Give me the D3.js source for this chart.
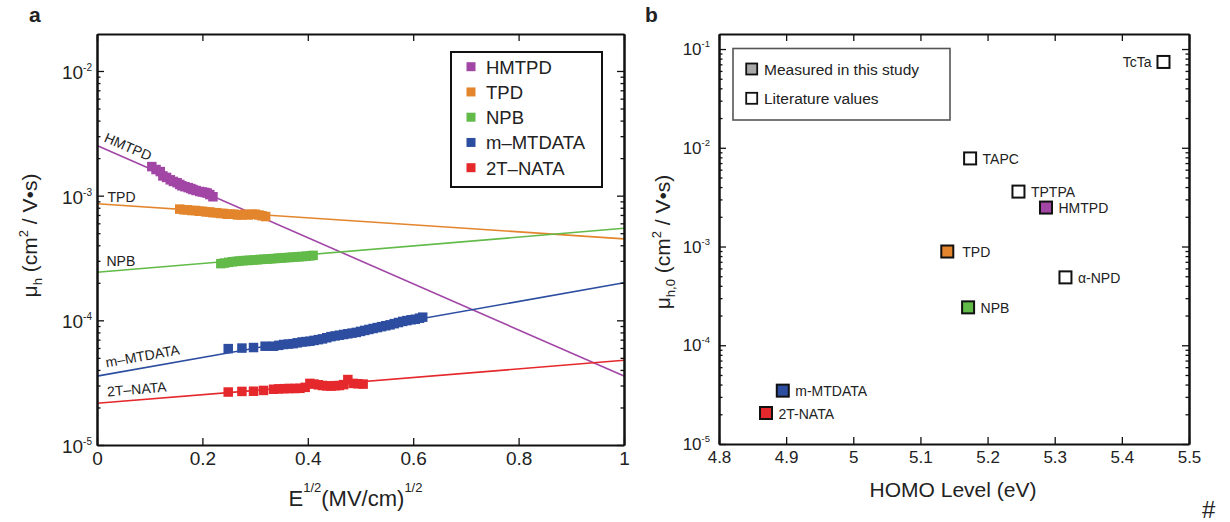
<!DOCTYPE html>
<html><head><meta charset="utf-8">
<script src="https://cdn.jsdelivr.net/npm/d3@7"></script>
<style>
body{margin:0;background:#fff}
svg{display:block}
text{font-family:"Liberation Sans",Arial,Helvetica,sans-serif;fill:#222}
</style>
</head><body><svg id="c" width="1230" height="522"></svg>
<script>
// ---------------- Panel a data ----------------
const seriesNames = ["HMTPD", "TPD", "NPB", "m–MTDATA", "2T–NATA"];
const fitX = [0, 1];
const fitHMTPD = [2.53e-3, 3.57e-5];
const fitTPD = [8.6e-4, 4.5e-4];
const fitNPB = [2.43e-4, 5.47e-4];
const fitMTDATA = [3.57e-5, 2.0e-4];
const fitNATA = [2.16e-5, 4.78e-5];

const xHMTPD = [0.104,0.112,0.12,0.125,0.132,0.139,0.145,0.152,0.157,0.161,0.167,0.173,0.178,0.182,0.188,0.195,0.2,0.205,0.209,0.214,0.22];
const yHMTPD = [1.71e-3,1.62e-3,1.56e-3,1.44e-3,1.40e-3,1.34e-3,1.30e-3,1.27e-3,1.23e-3,1.20e-3,1.18e-3,1.16e-3,1.14e-3,1.12e-3,1.10e-3,1.08e-3,1.07e-3,1.06e-3,1.05e-3,1.02e-3,0.98e-3];

const xTPD = [0.157,0.165,0.172,0.18,0.187,0.194,0.2,0.207,0.214,0.22,0.227,0.234,0.24,0.247,0.254,0.26,0.267,0.274,0.28,0.287,0.294,0.3,0.307,0.313,0.32];
const yTPD = [7.8e-4,7.7e-4,7.7e-4,7.6e-4,7.6e-4,7.5e-4,7.5e-4,7.4e-4,7.4e-4,7.3e-4,7.3e-4,7.2e-4,7.2e-4,7.1e-4,7.1e-4,7.1e-4,7.0e-4,7.0e-4,7.1e-4,7.0e-4,7.1e-4,7.1e-4,7.0e-4,6.9e-4,6.8e-4];

const xNPB = [0.235,0.242,0.25,0.257,0.264,0.27,0.277,0.284,0.29,0.297,0.304,0.31,0.317,0.324,0.33,0.337,0.344,0.35,0.357,0.364,0.37,0.377,0.384,0.39,0.397,0.404,0.41];
const yNPB = [2.85e-4,2.88e-4,2.92e-4,2.95e-4,2.97e-4,2.99e-4,3.01e-4,3.02e-4,3.03e-4,3.05e-4,3.06e-4,3.08e-4,3.09e-4,3.10e-4,3.12e-4,3.13e-4,3.15e-4,3.16e-4,3.18e-4,3.19e-4,3.21e-4,3.22e-4,3.24e-4,3.25e-4,3.27e-4,3.29e-4,3.32e-4];

const xMTDATA = [0.249,0.275,0.297,0.319,0.335,0.345,0.354,0.363,0.372,0.38,0.389,0.396,0.404,0.412,0.42,0.428,0.436,0.444,0.452,0.46,0.468,0.476,0.484,0.492,0.5,0.508,0.516,0.524,0.532,0.54,0.548,0.556,0.564,0.572,0.58,0.588,0.596,0.604,0.612,0.618];
const yMTDATA = [5.93e-5,5.99e-5,6.05e-5,6.2e-5,6.2e-5,6.3e-5,6.4e-5,6.45e-5,6.5e-5,6.6e-5,6.7e-5,6.75e-5,6.8e-5,6.9e-5,7.0e-5,7.1e-5,7.25e-5,7.4e-5,7.5e-5,7.6e-5,7.7e-5,7.8e-5,7.9e-5,8.0e-5,8.15e-5,8.3e-5,8.45e-5,8.6e-5,8.75e-5,8.9e-5,9.05e-5,9.2e-5,9.4e-5,9.6e-5,9.8e-5,9.95e-5,1.01e-4,1.02e-4,1.04e-4,1.06e-4];

const xNATA = [0.249,0.275,0.297,0.316,0.335,0.345,0.355,0.365,0.375,0.385,0.395,0.404,0.412,0.42,0.428,0.436,0.444,0.452,0.46,0.468,0.476,0.486,0.495,0.505];
const yNATA = [2.66e-5,2.69e-5,2.70e-5,2.74e-5,2.80e-5,2.82e-5,2.83e-5,2.84e-5,2.84e-5,2.85e-5,2.90e-5,3.12e-5,3.08e-5,3.04e-5,3.00e-5,2.98e-5,2.97e-5,2.99e-5,3.00e-5,3.05e-5,3.35e-5,3.12e-5,3.10e-5,3.08e-5];

const xTicksA = [0, 0.2, 0.4, 0.6, 0.8, 1];
const yTicksA = [1e-5, 1e-4, 1e-3, 1e-2];

// ---------------- Panel b data ----------------
const homoNames = ["TcTa", "TAPC", "TPTPA", "HMTPD", "TPD", "α-NPD", "NPB", "m-MTDATA", "2T-NATA"];
const homoLevel = [5.462, 5.174, 5.246, 5.287, 5.140, 5.316, 5.171, 4.895, 4.870];
const mu0 = [7.4e-2, 7.8e-3, 3.6e-3, 2.48e-3, 8.9e-4, 4.87e-4, 2.42e-4, 3.47e-5, 2.06e-5];
const measured = ["HMTPD", "TPD", "NPB", "m-MTDATA", "2T-NATA"];
const xTicksB = [4.8, 4.9, 5.0, 5.1, 5.2, 5.3, 5.4, 5.5];
const yTicksB = [1e-5, 1e-4, 1e-3, 1e-2, 1e-1];
const legendB = ["Measured in this study", "Literature values"];

// ---------------- styles ----------------
const colorA = {"HMTPD":"#a246a6","TPD":"#e3852c","NPB":"#62ba48","m–MTDATA":"#2d4ea0","2T–NATA":"#e5282b"};
const colorB = {"HMTPD":"#a246a6","TPD":"#e3852c","NPB":"#62ba48","m-MTDATA":"#2d4ea0","2T-NATA":"#e5282b"};
const FONT = '"Liberation Sans",Arial,Helvetica,sans-serif';

const svg = d3.select("#c");

function minorTicks(domain){
  const out=[];
  const lo=Math.floor(Math.log10(domain[0])), hi=Math.ceil(Math.log10(domain[1]));
  for(let e=lo;e<=hi;e++) for(let m=2;m<=9;m++){const v=m*Math.pow(10,e); if(v>=domain[0]&&v<=domain[1]) out.push(v);}
  return out;
}

function frame(g, x, y, xTicks, yTicks, opts){
  const [x0,x1]=x.range(), [y0,y1]=y.range();
  const minors = minorTicks(y.domain());
  const sw = 2;
  const b = g.append("g").attr("transform",`translate(0,${y0})`)
    .call(d3.axisBottom(x).tickValues(xTicks).tickSize(-7).tickSizeOuter(0).tickPadding(opts.xPad).tickFormat(opts.xFmt));
  b.selectAll("text").attr("font-size",opts.tickFont).attr("font-family",FONT).attr("fill","#333");
  g.append("g").attr("transform",`translate(0,${y1})`)
    .call(d3.axisTop(x).tickValues(xTicks).tickSize(-7).tickSizeOuter(0).tickFormat(""));
  g.append("g").attr("transform",`translate(${x0},0)`)
    .call(d3.axisLeft(y).tickValues(yTicks).tickSize(-7).tickSizeOuter(0).tickFormat(""));
  g.append("g").attr("transform",`translate(${x0},0)`)
    .call(d3.axisLeft(y).tickValues(minors).tickSize(-3.5).tickSizeOuter(0).tickFormat(""));
  g.append("g").attr("transform",`translate(${x1},0)`)
    .call(d3.axisRight(y).tickValues(yTicks).tickSize(-7).tickSizeOuter(0).tickFormat(""));
  g.append("g").attr("transform",`translate(${x1},0)`)
    .call(d3.axisRight(y).tickValues(minors).tickSize(-3.5).tickSizeOuter(0).tickFormat(""));
  g.selectAll(".domain").attr("stroke","#111").attr("stroke-width",sw);
  g.selectAll(".tick line").attr("stroke","#111").attr("stroke-width",1.3);
  yTicks.forEach(t=>{
    const e=Math.round(Math.log10(t));
    const tx=g.append("text").attr("x",x0-opts.yGap).attr("y",y(t)+opts.yDy)
      .attr("text-anchor","end").attr("font-size",opts.tickFont).attr("fill","#333");
    tx.append("tspan").text("10");
    tx.append("tspan").attr("dy",-opts.supRise).attr("font-size",opts.supFont).text("-"+Math.abs(e));
  });
}

// ================= Panel a =================
const xA = d3.scaleLinear().domain([0,1]).range([97,624]);
const yA = d3.scaleLog().domain([1e-5, 0.0198]).range([445,34]);
const gA = svg.append("g");

const fits = [fitHMTPD, fitTPD, fitNPB, fitMTDATA, fitNATA];
const xs = [xHMTPD, xTPD, xNPB, xMTDATA, xNATA];
const ys = [yHMTPD, yTPD, yNPB, yMTDATA, yNATA];
const line = d3.line().x(d=>xA(d[0])).y(d=>yA(d[1]));

seriesNames.forEach((n,i)=>{
  gA.append("path").datum(fitX.map((x,j)=>[x,fits[i][j]]))
    .attr("d",line).attr("fill","none").attr("stroke",colorA[n]).attr("stroke-width",1.6);
});
const ms = 9.5;
seriesNames.forEach((n,i)=>{
  gA.append("g").selectAll("rect").data(xs[i].map((x,j)=>[x,ys[i][j]])).join("rect")
    .attr("x",d=>xA(d[0])-ms/2).attr("y",d=>yA(d[1])-ms/2)
    .attr("width",ms).attr("height",ms).attr("fill",colorA[n]);
});

const lblX = [0.012, 0.02, 0.018, 0.018, 0.02];
const lblOff = [-7, -3, -5, -7, -6];
seriesNames.forEach((n,i)=>{
  const f=fits[i];
  const angle = Math.atan2(yA(f[1])-yA(f[0]), xA(1)-xA(0))*180/Math.PI;
  const lx = lblX[i];
  const ly = Math.pow(10, Math.log10(f[0]) + lx*(Math.log10(f[1])-Math.log10(f[0])));
  const isRot = (i===0||i===3||i===4);
  const px = xA(lx), py = yA(ly)+lblOff[i];
  gA.append("text").attr("x",px).attr("y",py)
    .attr("transform", isRot?`rotate(${angle},${px},${py})`:null)
    .attr("font-size",14).attr("fill","#333").text(n);
});

frame(gA, xA, yA, xTicksA, yTicksA, {xPad:6.5, xFmt:d3.format("~g"), tickFont:19, yGap:5, yDy:8, supRise:8, supFont:10});

const legA = gA.append("g");
legA.append("rect").attr("x",451).attr("y",52).attr("width",151).attr("height",135)
  .attr("fill","#fff").attr("stroke","#111").attr("stroke-width",2);
seriesNames.forEach((n,i)=>{
  const cy = 66.7 + i*25.25;
  legA.append("rect").attr("x",471-4.5).attr("y",cy-4.5).attr("width",9).attr("height",9).attr("fill",colorA[n]);
  legA.append("text").attr("x",486).attr("y",cy+7).attr("font-size",18.5).attr("fill","#222").text(n);
});

const xtA = gA.append("text").attr("x",(xA(0)+xA(1))/2 - 5).attr("y",506).attr("text-anchor","middle").attr("font-size",22).attr("fill","#333");
xtA.append("tspan").text("E");
xtA.append("tspan").attr("dy",-14).attr("font-size",13).text("1/2");
xtA.append("tspan").attr("dy",14).text("(MV/cm)");
xtA.append("tspan").attr("dy",-14).attr("font-size",13).text("1/2");

const ytA = gA.append("text").attr("transform",`translate(37,${(yA.range()[0]+yA.range()[1])/2 - 4}) rotate(-90)`)
  .attr("text-anchor","middle").attr("font-size",21).attr("fill","#333");
ytA.append("tspan").text("μ");
ytA.append("tspan").attr("dy",5).attr("font-size",13).text("h");
ytA.append("tspan").attr("dy",-5).text(" (cm");
ytA.append("tspan").attr("dy",-9).attr("font-size",13).text("2");
ytA.append("tspan").attr("dy",9).text(" / V•s)");

gA.append("text").attr("x",29).attr("y",22).attr("font-size",21).attr("font-weight","bold").attr("fill","#111").text("a");

// ================= Panel b =================
const xB = d3.scaleLinear().domain([4.8,5.5]).range([719,1189]);
const yB = d3.scaleLog().domain([1e-5, 0.142]).range([444,34]);
const gB = svg.append("g");

frame(gB, xB, yB, xTicksB, yTicksB, {xPad:7, xFmt:d3.format("~g"), tickFont:17, yGap:9, yDy:6, supRise:8, supFont:9.5});

const legB = gB.append("g");
legB.append("rect").attr("x",733).attr("y",48.5).attr("width",217).attr("height",71.5)
  .attr("fill","#fff").attr("stroke","#555").attr("stroke-width",1.6);
legendB.forEach((t,i)=>{
  const cy = 69 + i*29.3;
  legB.append("rect").attr("x",751.7-5.5).attr("y",cy-5.5).attr("width",11).attr("height",11)
    .attr("fill", i===0?"#a9a9a9":"#fff").attr("stroke","#111").attr("stroke-width",1.8);
  legB.append("text").attr("x",764).attr("y",cy+5.5).attr("font-size",15.5).attr("fill","#222").text(t);
});

const bs = 12;
homoNames.forEach((n,i)=>{
  const cx = xB(homoLevel[i]), cy = yB(mu0[i]);
  gB.append("rect").attr("x",cx-bs/2).attr("y",cy-bs/2).attr("width",bs).attr("height",bs)
    .attr("fill", measured.includes(n)?colorB[n]:"#fff").attr("stroke","#111").attr("stroke-width",2);
  const left = (n==="TcTa");
  gB.append("text").attr("x", left? cx-12 : cx+(n==="TPD"?15:12.5)).attr("y",cy+5.5)
    .attr("text-anchor", left?"end":"start").attr("font-size",14).attr("fill","#333").text(n);
});

gB.append("text").attr("x",953).attr("y",497).attr("text-anchor","middle").attr("font-size",21).attr("fill","#333").text("HOMO Level (eV)");
const ytB = gB.append("text").attr("transform",`translate(670,242) rotate(-90)`)
  .attr("text-anchor","middle").attr("font-size",21).attr("fill","#333");
ytB.append("tspan").text("μ");
ytB.append("tspan").attr("dy",5).attr("font-size",13).text("h,0");
ytB.append("tspan").attr("dy",-5).text(" (cm");
ytB.append("tspan").attr("dy",-9).attr("font-size",13).text("2");
ytB.append("tspan").attr("dy",9).text(" / V•s)");

gB.append("text").attr("x",645).attr("y",22).attr("font-size",21).attr("font-weight","bold").attr("fill","#111").text("b");

svg.append("text").attr("x",1202).attr("y",518).attr("font-size",24).attr("font-family","DejaVu Sans").attr("fill","#111").text("#");
</script></body></html>
